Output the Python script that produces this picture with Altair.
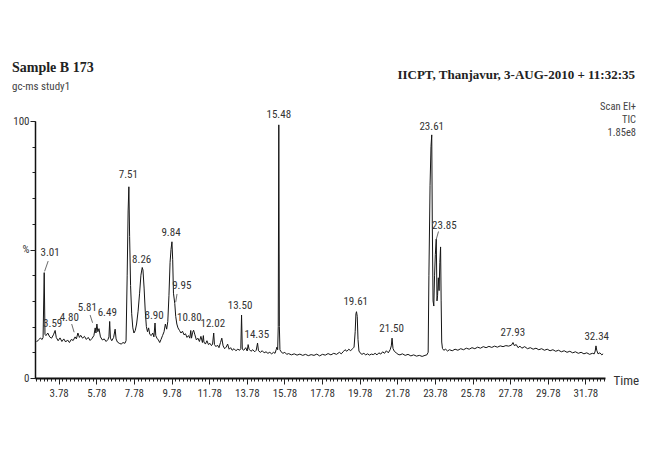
import altair as alt
import pandas as pd

# ---------------- data ----------------
TIME = [2.60, 2.70, 2.80, 2.90, 2.95, 3.01, 3.05, 3.10, 3.20, 3.30, 3.40, 3.50, 3.59, 3.65, 3.75,
        3.85, 3.95, 4.05, 4.15, 4.25, 4.35, 4.45, 4.55, 4.65, 4.72, 4.80, 4.88, 4.95, 5.05, 5.15,
        5.25, 5.35, 5.45, 5.55, 5.65, 5.72, 5.76, 5.81, 5.86, 5.92, 6.00, 6.10, 6.20, 6.30, 6.40,
        6.45, 6.49, 6.53, 6.60, 6.70, 6.78, 6.83, 6.90, 7.00, 7.10, 7.20, 7.30, 7.36, 7.42, 7.47,
        7.51, 7.55, 7.60, 7.66, 7.72, 7.78, 7.85, 7.92, 8.00, 8.08, 8.15, 8.22, 8.26, 8.32, 8.38,
        8.44, 8.50, 8.56, 8.62, 8.70, 8.78, 8.84, 8.90, 8.94, 9.00, 9.08, 9.15, 9.22, 9.30, 9.38,
        9.45, 9.52, 9.58, 9.64, 9.70, 9.75, 9.80, 9.84, 9.88, 9.95, 10.00, 10.06, 10.12, 10.20, 10.28,
        10.36, 10.44, 10.52, 10.60, 10.68, 10.75, 10.80, 10.84, 10.90, 10.95, 11.02, 11.10, 11.18, 11.26, 11.34,
        11.42, 11.47, 11.50, 11.58, 11.66, 11.74, 11.82, 11.90, 11.96, 12.02, 12.06, 12.14, 12.22, 12.30, 12.38,
        12.45, 12.52, 12.60, 12.68, 12.76, 12.84, 12.92, 13.00, 13.10, 13.20, 13.30, 13.40, 13.46, 13.50, 13.54,
        13.62, 13.72, 13.80, 13.85, 13.90, 14.00, 14.10, 14.20, 14.28, 14.35, 14.40, 14.50, 14.60, 14.70, 14.80,
        14.90, 15.00, 15.10, 15.20, 15.28, 15.34, 15.38, 15.42, 15.45, 15.48, 15.51, 15.54, 15.60, 15.70, 15.80,
        15.90, 16.00, 16.15, 16.30, 16.45, 16.60, 16.75, 16.90, 17.05, 17.20, 17.35, 17.50, 17.65, 17.80, 17.95,
        18.10, 18.25, 18.40, 18.55, 18.70, 18.80, 18.90, 19.00, 19.10, 19.20, 19.30, 19.40, 19.48, 19.54, 19.58,
        19.61, 19.65, 19.69, 19.74, 19.80, 19.90, 20.00, 20.10, 20.20, 20.30, 20.40, 20.50, 20.60, 20.70, 20.80,
        20.90, 21.00, 21.10, 21.20, 21.30, 21.40, 21.46, 21.50, 21.55, 21.62, 21.72, 21.82, 21.92, 22.05, 22.20,
        22.35, 22.50, 22.65, 22.80, 22.95, 23.10, 23.25, 23.35, 23.42, 23.46, 23.52, 23.57, 23.61, 23.64, 23.68,
        23.72, 23.76, 23.80, 23.85, 23.89, 23.92, 23.96, 24.00, 24.04, 24.08, 24.11, 24.14, 24.18, 24.25, 24.35,
        24.45, 24.55, 24.70, 24.85, 25.00, 25.15, 25.30, 25.45, 25.60, 25.75, 25.90, 26.05, 26.20, 26.35, 26.50,
        26.65, 26.80, 26.95, 27.10, 27.25, 27.40, 27.55, 27.70, 27.85, 27.93, 28.00, 28.10, 28.20, 28.30, 28.40,
        28.55, 28.70, 28.85, 29.00, 29.15, 29.30, 29.45, 29.60, 29.75, 29.90, 30.05, 30.20, 30.35, 30.50, 30.65,
        30.80, 30.95, 31.10, 31.25, 31.40, 31.55, 31.70, 31.85, 32.00, 32.15, 32.25, 32.30, 32.34, 32.38, 32.45,
        32.55, 32.65, 32.72]

INTENSITY = [14.0, 14.8, 15.5, 15.0, 15.8, 41.0, 17.0, 16.5, 17.5, 16.0, 15.5, 16.8, 18.5, 15.8, 14.5,
             15.6, 14.2, 15.2, 14.0, 14.8, 13.8, 15.0, 14.6, 16.0, 15.2, 17.5, 15.8, 16.6, 15.5, 16.2,
             15.0, 15.8, 14.6, 15.4, 16.5, 19.5, 17.5, 21.0, 18.0, 19.2, 16.0, 14.8, 15.2, 14.2, 15.0,
             16.0, 22.0, 15.5, 14.5, 15.8, 19.0, 15.2, 14.0, 13.5, 13.2, 13.8, 13.5, 14.5, 40.0, 65.0,
             74.4, 55.0, 36.0, 25.0, 19.5, 17.5, 18.5, 21.0, 26.0, 33.0, 40.0, 43.0, 42.0, 35.0, 26.0,
             20.0, 18.0, 19.5, 17.0, 16.5, 17.5, 16.0, 21.4, 16.5, 15.5, 14.8, 13.8, 15.0, 16.5, 18.0,
             21.0, 19.0, 22.0, 32.0, 45.0, 50.0, 53.0, 46.0, 33.0, 29.0, 24.0, 21.0, 19.5, 18.5, 17.5,
             18.2, 16.8, 17.2, 15.8, 16.5, 15.5, 18.5, 15.5, 17.8, 18.6, 16.8, 14.8, 15.5, 14.2, 16.2,
             13.8, 16.5, 14.0, 13.2, 14.5, 13.0, 13.5, 12.6, 13.2, 17.5, 13.0, 12.2, 12.8, 11.8, 13.8,
             15.5, 12.5, 11.4, 12.0, 13.2, 11.2, 11.8, 10.8, 11.4, 10.6, 11.2, 10.8, 11.5, 24.5, 11.2,
             10.8, 11.8, 10.5, 13.0, 11.2, 10.4, 11.0, 10.2, 10.8, 13.6, 10.6, 10.0, 10.6, 9.8, 10.2,
             9.6, 10.0, 9.4, 10.0, 9.6, 11.0, 12.0, 11.0, 20.0, 98.5, 20.0, 11.0, 10.2, 9.6, 10.0,
             9.2, 9.5, 9.0, 9.4, 8.9, 9.3, 8.8, 9.2, 8.7, 9.1, 8.8, 9.3, 8.6, 9.2, 8.9,
             9.5, 9.0, 9.6, 9.2, 10.0, 9.4, 10.2, 11.0, 10.4, 11.2, 10.6, 11.4, 12.0, 18.0, 25.0,
             25.8, 24.0, 15.0, 10.5, 9.8, 9.2, 9.6, 9.0, 9.4, 8.9, 9.3, 9.1, 9.6, 9.0, 9.8,
             9.3, 10.2, 9.6, 10.6, 9.8, 11.0, 12.5, 15.5, 11.5, 10.4, 9.8, 9.2, 9.0, 9.4, 8.8,
             9.2, 8.6, 9.0, 8.5, 8.8, 8.4, 8.8, 9.0, 10.0, 40.0, 75.0, 90.0, 94.6, 60.0, 30.0,
             28.0, 40.0, 48.0, 54.0, 30.0, 32.0, 39.0, 34.0, 45.0, 51.0, 30.0, 14.0, 11.5, 10.8, 11.2,
             10.5, 11.0, 10.6, 11.2, 10.8, 11.4, 11.0, 11.6, 11.2, 11.8, 11.4, 12.0, 11.6, 12.2, 11.8,
             12.3, 11.9, 12.4, 12.0, 12.5, 12.2, 12.6, 12.4, 12.8, 13.8, 12.6, 13.0, 11.8, 12.4, 11.6,
             12.2, 11.4, 11.8, 11.2, 11.6, 11.0, 11.4, 10.8, 11.2, 10.6, 11.0, 10.4, 10.8, 10.2, 10.6,
             10.0, 10.4, 9.8, 10.2, 9.6, 10.0, 9.4, 9.8, 9.2, 9.6, 9.4, 10.5, 12.5, 10.8, 9.4,
             9.8, 9.0, 9.4]

# peak labels: text, label time position, label height (%)
PEAK_TEXT = ["3.01", "3.59", "4.80", "5.81", "6.49", "7.51", "8.26", "8.90", "9.84", "9.95",
             "10.80", "12.02", "13.50", "14.35", "15.48", "19.61", "21.50", "23.61", "23.85",
             "27.93", "32.34"]
PEAK_LX = [3.32, 3.46, 4.34, 5.30, 6.36, 7.48, 8.19, 8.85, 9.75, 10.32,
           10.72, 11.97, 13.42, 14.31, 15.48, 19.57, 21.48, 23.61, 24.28,
           27.92, 32.38]
PEAK_LY = [48.6, 20.9, 23.5, 27.1, 25.2, 79.0, 45.9, 24.2, 56.3, 35.9,
           23.5, 20.9, 28.1, 16.7, 102.3, 29.7, 19.0, 97.7, 59.1,
           17.4, 16.1]

# leader lines from label to peak
LEAD_X1 = [3.03, 4.60, 5.58, 10.00, 23.84]
LEAD_Y1 = [41.5, 17.8, 21.5, 29.5, 53.7]
LEAD_X2 = [3.22, 4.47, 5.45, 10.07, 23.97]
LEAD_Y2 = [45.5, 21.0, 24.5, 32.7, 57.0]

X_MAJOR = [3.78, 5.78, 7.78, 9.78, 11.78, 13.78, 15.78, 17.78, 19.78, 21.78,
           23.78, 25.78, 27.78, 29.78, 31.78]
X_DOMAIN = [2.52, 32.82]
Y_MINOR = [0, 10, 20, 30, 40, 50, 60, 70, 80, 90, 100]
Y_MAJOR = [0, 50, 100]

# ---------------- build ----------------
trace = pd.DataFrame({"t": TIME, "v": INTENSITY})
peaks = pd.DataFrame({"label": PEAK_TEXT, "t": PEAK_LX, "v": PEAK_LY})
leads = pd.DataFrame({"x1": LEAD_X1, "y1": LEAD_Y1, "x2": LEAD_X2, "y2": LEAD_Y2})

x_minor = [round(2.58 + 0.2 * i, 2) for i in range(152)]

NARROW = "Liberation Sans Narrow, Arial Narrow, Roboto Condensed, Liberation Sans"
SERIF = "Liberation Serif"

x_scale = alt.Scale(domain=X_DOMAIN, nice=False, zero=False)
y_scale = alt.Scale(domain=[0, 100], nice=False)

x_axis_minor = alt.Axis(
    orient="bottom", values=x_minor, labels=False, tickSize=3, grid=False,
    domainColor="#111", domainWidth=2, tickColor="#222", tickWidth=1, title=None,
)
x_axis_major = alt.Axis(
    orient="bottom", values=X_MAJOR, format=".2f", tickSize=6, grid=False, domain=False,
    tickColor="#222", tickWidth=1, labelOverlap=False, labelBound=False,
    labelFont=NARROW, labelFontSize=11, labelColor="#333", labelPadding=3,
    title="Time", titleFont=NARROW, titleFontSize=13, titleFontWeight="normal",
    titleColor="#333", titleX=578, titleY=2, titleAlign="left", titleBaseline="middle",
    titleAnchor="start",
)
y_axis_minor = alt.Axis(
    orient="left", values=Y_MINOR, labels=False, tickSize=3, grid=False,
    domainColor="#111", domainWidth=1.5, tickColor="#222", title=None,
)
y_axis_major = alt.Axis(
    orient="left", values=Y_MAJOR, tickSize=5, grid=False, domain=False,
    labelExpr="datum.value == 50 ? '%' : datum.label",
    tickColor="#222", labelOverlap=False, labelBound=False,
    labelFont=NARROW, labelFontSize=11, labelColor="#333", labelPadding=1, title=None,
)

line = alt.Chart(trace).mark_line(color="#151515", strokeWidth=1).encode(
    x=alt.X("t:Q", scale=x_scale, axis=x_axis_minor),
    y=alt.Y("v:Q", scale=y_scale, axis=y_axis_minor),
)

labels = alt.Chart(peaks).mark_text(
    font=NARROW, fontSize=11, color="#333", baseline="middle", align="center"
).encode(
    x=alt.X("t:Q", scale=x_scale, axis=x_axis_major),
    y=alt.Y("v:Q", scale=y_scale, axis=y_axis_major),
    text="label:N",
)

leaders = alt.Chart(leads).mark_rule(color="#444", strokeWidth=0.8).encode(
    x=alt.X("x1:Q", scale=x_scale, axis=None), y=alt.Y("y1:Q", scale=y_scale, axis=None),
    x2="x2:Q", y2="y2:Q",
)

head_left = alt.Chart(pd.DataFrame({"txt": ["Sample B 173"]})).mark_text(
    font=SERIF, fontSize=14, fontWeight="bold", color="#222", align="left", baseline="middle"
).encode(x=alt.value(-23), y=alt.value(-53), text="txt:N")

sub_left = alt.Chart(pd.DataFrame({"txt": ["gc-ms study1"]})).mark_text(
    font=NARROW, fontSize=11, color="#444", align="left", baseline="middle"
).encode(x=alt.value(-23), y=alt.value(-34), text="txt:N")

head_right = alt.Chart(pd.DataFrame({"txt": ["IICPT, Thanjavur,  3-AUG-2010 + 11:32:35"]})).mark_text(
    font=SERIF, fontSize=13, fontWeight="bold", color="#222", align="right", baseline="middle"
).encode(x=alt.value(600), y=alt.value(-46), text="txt:N")

info = alt.Chart(pd.DataFrame({"txt": [["Scan EI+", "TIC", "1.85e8"]]})).mark_text(
    font=NARROW, fontSize=10.5, color="#444", align="right", baseline="middle", lineHeight=13
).encode(x=alt.value(601), y=alt.value(-14), text="txt")

chart = alt.layer(line, labels, leaders, head_left, sub_left, head_right, info).resolve_axis(
    x="independent", y="independent"
).properties(
    width=570, height=257,
    autosize=alt.AutoSizeParams(type="none"),
    padding={"left": 27, "top": 113, "right": 53, "bottom": 60},
    background="white",
).configure_view(strokeWidth=0)

chart.save("out.html", embed_options={"renderer": "svg", "actions": False})
